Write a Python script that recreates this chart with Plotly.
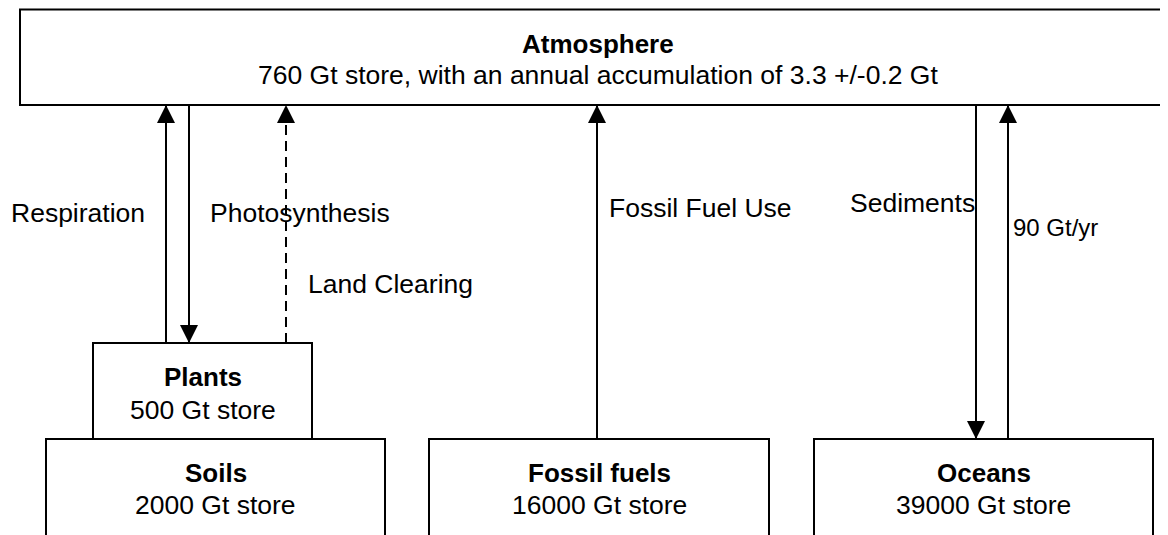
import plotly.graph_objects as go

# ---- data ----
store_names = ["Atmosphere", "Plants", "Soils", "Fossil fuels", "Oceans"]
store_gt = [760, 500, 2000, 16000, 39000]
atm_accumulation = 3.3
atm_uncertainty = 0.2
flux_labels = ["Respiration", "Photosynthesis", "Land Clearing",
               "Fossil Fuel Use", "Sediments", "90 Gt/yr"]

# ---- layout geometry (diagram coordinates, px) ----
box_x0 = [20, 93, 46, 429, 814]
box_x1 = [1185, 312, 385, 769, 1153]
box_y0 = [9.5, 343, 439, 439, 439]
box_y1 = [105, 439, 600, 600, 600]
title_y = [44, 377, 473, 473, 473]
sub_y = [75, 410, 505, 505, 505]
title_cx = [598, None, None, None, None]

# arrows: x, from_y, to_y (tip), dashed
arrow_x = [166, 189, 286, 597, 976, 1008]
arrow_from = [343, 105, 343, 439, 105, 439]
arrow_to = [105, 343, 105, 105, 439, 105]
arrow_dash = [False, False, True, False, False, False]

label_x = [9, 208, 306, 607, 848, 1011]
label_y = [213, 213, 284, 208, 203, 227]
label_size = [26.5, 26.5, 26.5, 26.5, 26.5, 24]

FONT = "Liberation Sans, Arial, sans-serif"
LW = 2
PAGE_OFFSET = 8  # default page margin of the html body

fig = go.Figure()
shapes = []
annotations = []

for i, name in enumerate(store_names):
    shapes.append(dict(type="rect", xref="x", yref="y",
                       x0=box_x0[i], x1=box_x1[i], y0=box_y0[i], y1=box_y1[i],
                       line=dict(color="black", width=LW), fillcolor="white",
                       layer="below"))
    cx = title_cx[i] if title_cx[i] is not None else (box_x0[i] + box_x1[i]) / 2
    if i == 0:
        sub = (f"{store_gt[i]} Gt store, with an annual accumulation of "
               f"{atm_accumulation} +/-{atm_uncertainty} Gt")
    else:
        sub = f"{store_gt[i]} Gt store"
    annotations.append(dict(x=cx, y=title_y[i], xref="x", yref="y",
                            text=f"<b>{name}</b>", showarrow=False,
                            font=dict(family=FONT, size=26, color="black"),
                            xanchor="center", yanchor="middle"))
    annotations.append(dict(x=cx, y=sub_y[i], xref="x", yref="y",
                            text=sub, showarrow=False,
                            font=dict(family=FONT, size=26.5, color="black"),
                            xanchor="center", yanchor="middle"))

HEAD = 17
for i in range(len(arrow_x)):
    shapes.append(dict(type="line", xref="x", yref="y",
                       x0=arrow_x[i], x1=arrow_x[i],
                       y0=arrow_from[i], y1=arrow_to[i],
                       line=dict(color="black", width=LW,
                                 dash="10px,6px" if arrow_dash[i] else "solid")))
    direction = 1 if arrow_to[i] < arrow_from[i] else -1
    annotations.append(dict(x=arrow_x[i], y=arrow_to[i], xref="x", yref="y",
                            ax=arrow_x[i], ay=arrow_to[i] + direction * HEAD,
                            axref="x", ayref="y", text="", showarrow=True,
                            arrowhead=2, arrowsize=1.8, arrowwidth=LW,
                            arrowcolor="black", standoff=0, startstandoff=0))

for i, lab in enumerate(flux_labels):
    annotations.append(dict(x=label_x[i], y=label_y[i], xref="x", yref="y",
                            text=lab, showarrow=False,
                            font=dict(family=FONT, size=label_size[i], color="black"),
                            xanchor="left", yanchor="middle"))

W, H = 1168, 535
fig.update_layout(
    width=W - PAGE_OFFSET, height=H - PAGE_OFFSET,
    margin=dict(l=0, r=0, t=0, b=0),
    paper_bgcolor="white", plot_bgcolor="white",
    xaxis=dict(range=[PAGE_OFFSET, W], visible=False, fixedrange=True),
    yaxis=dict(range=[H, PAGE_OFFSET], visible=False, fixedrange=True),
    shapes=shapes, annotations=annotations, showlegend=False,
)

fig.write_html("out.html")
